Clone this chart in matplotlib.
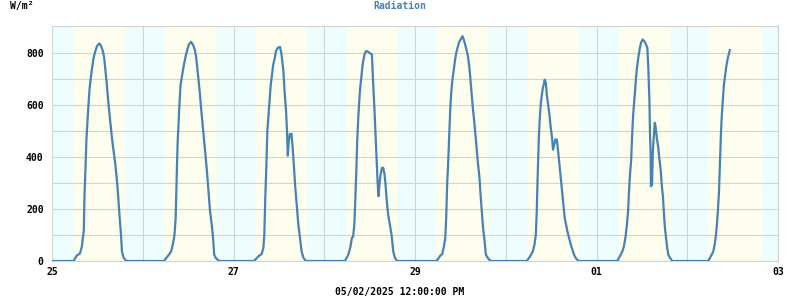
"""
Radiation chart - one week of solar radiation (W/m2), Apr 25 - May 3 2025
"""

import matplotlib
matplotlib.use("Agg")
import matplotlib.pyplot as plt
import matplotlib.dates as mdates
import pandas as pd

# hours after midnight and radiation readings, one pair of lists per day
h25 = [0, 5.7, 6.5, 7.4, 7.9, 8.15, 8.4, 8.6, 8.86, 9.12, 9.4, 9.65, 9.92, 10.2, 10.55, 11.0,
       11.45, 11.9, 12.55, 13.0, 13.45, 13.8, 14.15, 14.5, 14.95, 15.4, 15.85, 16.3, 16.75,
       17.2, 17.6, 17.9, 18.25, 18.5, 18.95, 19.7]
r25 = [0, 0, 20, 29, 56, 88, 114, 255, 358, 473, 544, 601, 659, 697, 736, 781,
       806, 826, 836, 826, 806, 781, 729, 678, 601, 537, 473, 422, 371,
       306, 229, 165, 101, 37, 12, 0]

h26 = [5.6, 6.9, 7.5, 7.95, 8.4, 8.7, 8.95, 9.2, 9.5, 9.75, 10.0, 10.45, 10.9, 11.35, 11.8,
       12.2, 12.8, 13.35, 13.75, 14.15, 14.6, 15.05, 15.5, 16.0, 16.5, 16.9, 17.4, 17.8,
       18.25, 18.6, 18.9, 19.3, 20.2]
r26 = [0, 24, 37, 63, 100, 165, 313, 447, 537, 614, 678, 717, 755, 787, 813,
       832, 842, 829, 813, 781, 717, 653, 576, 499, 422, 358, 268, 191,
       140, 88, 24, 12, 0]

h27 = [5.4, 6.6, 7.45, 7.9, 8.15, 8.4, 8.7, 8.95, 9.2, 9.5, 9.85, 10.2, 10.5, 10.95, 11.2,
       11.7, 12.3, 12.7, 13.2, 13.5, 13.9, 14.15, 14.35, 14.6, 14.9, 15.35, 15.65, 16.0,
       16.35, 16.7, 17.15, 17.6, 18.0, 18.5, 19.2]
r27 = [0, 18, 27, 50, 101, 242, 370, 499, 550, 614, 678, 717, 755, 781, 806,
       819, 823, 794, 729, 653, 576, 499, 405, 455, 488, 488, 435, 358,
       281, 217, 140, 88, 37, 12, 0]

h28 = [5.45, 6.35, 6.95, 7.3, 7.65, 7.95, 8.2, 8.45, 8.75, 9.0, 9.25, 9.5, 9.8, 10.05, 10.3,
       10.65, 11.0, 11.4, 11.9, 12.6, 12.95, 13.3, 13.6, 13.85, 14.1, 14.35, 14.6, 14.9,
       15.25, 15.6, 15.95, 16.2, 16.55, 16.9, 17.35, 17.8, 18.25, 18.7, 19.3]
r28 = [0, 24, 56, 88, 95, 140, 229, 332, 473, 550, 614, 665, 704, 742, 768,
       794, 806, 806, 800, 794, 678, 576, 473, 396, 306, 249, 294, 332,
       358, 358, 332, 294, 229, 178, 140, 101, 37, 12, 0]

h29 = [5.7, 6.55, 7.2, 7.65, 8.0, 8.25, 8.5, 8.75, 9.05, 9.3, 9.55, 9.85, 10.2, 10.55, 10.9,
       11.25, 11.6, 12.05, 12.55, 12.9, 13.25, 13.6, 14.0, 14.4, 14.85, 15.3, 15.75, 16.2,
       16.6, 17.05, 17.4, 17.75, 18.0, 18.4, 18.75, 19.25, 19.95]
r29 = [0, 18, 27, 56, 88, 165, 294, 370, 486, 576, 640, 691, 729, 768, 800,
       819, 838, 851, 864, 851, 832, 813, 787, 742, 665, 588, 524, 447,
       383, 319, 242, 178, 127, 76, 24, 12, 0]

h30 = [5.55, 6.45, 7.15, 7.6, 7.95, 8.2, 8.45, 8.75, 9.0, 9.25, 9.5, 9.8, 10.05, 10.3, 10.6,
       10.85, 11.2, 11.55, 11.9, 12.25, 12.5, 12.8, 13.15, 13.5, 13.85, 14.2, 14.55, 14.9,
       15.25, 15.6, 15.95, 16.3, 16.75, 17.2, 17.6, 18.05, 18.5, 19.2]
r30 = [0, 18, 37, 63, 101, 191, 332, 473, 550, 601, 633, 665, 678, 697, 685,
       640, 601, 563, 512, 473, 428, 447, 467, 467, 422, 370, 319, 268,
       217, 165, 140, 114, 88, 63, 44, 24, 12, 0]

h01 = [5.5, 5.95, 6.4, 6.85, 7.25, 7.7, 8.05, 8.35, 8.6, 8.85, 9.15, 9.4, 9.65, 9.9, 10.2,
       10.45, 10.7, 11.05, 11.4, 11.75, 12.2, 12.65, 13.1, 13.45, 13.7, 14.0, 14.15, 14.3,
       14.4, 14.7, 14.85, 15.0, 15.2, 15.4, 15.55, 15.75, 16.0, 16.35, 16.6, 17.0, 17.25,
       17.6, 17.85, 18.1, 18.4, 18.7, 19.0, 19.45, 20.05]
r01 = [0, 12, 24, 37, 56, 95, 140, 191, 268, 332, 383, 473, 550, 601, 653,
       704, 742, 781, 813, 838, 851, 845, 832, 819, 742, 614, 486, 422,
       287, 294, 396, 447, 486, 531, 524, 499, 467, 435, 396, 345, 294,
       242, 178, 127, 88, 50, 24, 12, 0]

h02 = [5.55, 6.0, 6.45, 6.9, 7.25, 7.6, 7.85, 8.1, 8.4, 8.65, 8.9, 9.15, 9.45, 9.7, 10.05,
       10.4, 10.75, 11.25]
r02 = [0, 12, 24, 37, 63, 101, 140, 191, 268, 371, 486, 563, 627, 678, 717,
       755, 781, 810]

# daylight band (hours) for each of the 8 days
sunrise = [5.95, 5.95, 5.95, 6.0, 6.0, 6.0, 5.9, 5.95]
sunset = [19.0, 19.25, 19.2, 19.2, 19.3, 19.1, 19.35, 19.4]

start = pd.Timestamp("2025-04-25")
end = pd.Timestamp("2025-05-03")

NIGHT = "#EEFEFE"
DAY = "#FEFEEE"
EDGE = "#F6FEF6"
GRID = "#D3D3D3"
LINE = "#4682B4"
FONT = "DejaVu Sans Mono"

days = [(h25, r25), (h26, r26), (h27, r27), (h28, r28),
        (h29, r29), (h30, r30), (h01, r01), (h02, r02)]

times = []
values = []
for i, (hours, rads) in enumerate(days):
    for h, r in zip(hours, rads):
        times.append(start + pd.Timedelta(days=i, hours=h))
        values.append(r)

fig = plt.figure(figsize=(8, 3), dpi=100)
ax = fig.add_axes([0.065, 0.13, 0.9075, 0.7833])
ax.set_facecolor(NIGHT)

# day / night shading with a soft edge
for i in range(len(sunrise)):
    t0 = start + pd.Timedelta(days=i, hours=sunrise[i])
    t1 = start + pd.Timedelta(days=i, hours=sunset[i])
    edge = pd.Timedelta(minutes=20)
    ax.axvspan(t0 - edge, t0, color=EDGE, lw=0, zorder=0)
    ax.axvspan(t0, t1, color=DAY, lw=0, zorder=0)
    ax.axvspan(t1, t1 + edge, color=EDGE, lw=0, zorder=0)

ax.plot(times, values, color=LINE, linewidth=1.6, zorder=3)

ax.set_xlim(start, end)
ax.set_ylim(0, 903)
ax.set_yticks([0, 200, 400, 600, 800])
ax.set_yticks(range(0, 900, 100), minor=True)
ax.xaxis.set_major_locator(mdates.DayLocator(interval=2))
ax.xaxis.set_minor_locator(mdates.DayLocator())
ax.xaxis.set_major_formatter(mdates.DateFormatter("%d"))

ax.grid(True, which="both", color=GRID, linewidth=0.8, zorder=1)
ax.set_axisbelow(True)
for s in ax.spines.values():
    s.set_color(GRID)
    s.set_linewidth(0.8)

ax.tick_params(which="both", length=0)
ax.tick_params(axis="y", pad=6)
ax.tick_params(axis="x", pad=4)
for lbl in ax.get_xticklabels() + ax.get_yticklabels():
    lbl.set_fontfamily(FONT)
    lbl.set_fontweight("bold")
    lbl.set_fontsize(7)

fig.text(0.012, 0.98, "W/m\u00b2", fontfamily=FONT, fontweight="bold", fontsize=7,
         ha="left", va="center")
fig.text(0.5, 0.98, "Radiation", fontfamily=FONT, fontweight="bold", fontsize=7,
         color=LINE, ha="center", va="center")
fig.text(0.5, 0.027, "05/02/2025 12:00:00 PM", fontfamily=FONT, fontweight="bold",
         fontsize=7, ha="center", va="center")

fig.savefig("out.png", dpi=100)
